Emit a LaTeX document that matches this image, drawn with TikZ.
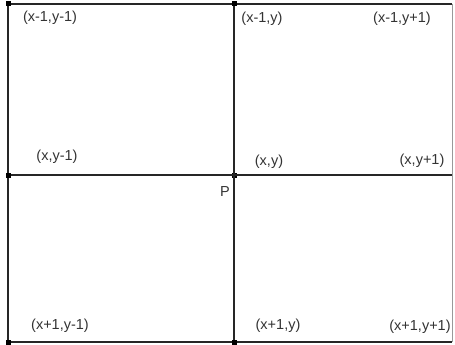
\documentclass[tikz,border=0pt]{standalone}
\usepackage{fontspec}
\setmainfont{Liberation Sans}
\begin{document}
\begin{tikzpicture}[x=1pt,y=-1pt,
  lbl/.style={font=\fontsize{14.5}{16}\selectfont, text=black!80, inner sep=0pt},
  dot/.style={fill=black, minimum size=5pt, inner sep=0pt, draw=none, rectangle},
  gridline/.style={line width=1.3pt, black!85}]
\useasboundingbox (0,0) rectangle (455,345);
\coordinate (tl) at (8,4);
\coordinate (tm) at (234,4);
\coordinate (tr) at (452,4);
\coordinate (ml) at (8,175);
\coordinate (mr) at (452,175);
\coordinate (bl) at (8,342);
\coordinate (bm) at (234,342);
\coordinate (br) at (452,342);
\node[dot] (c) at (234,175) {};
% lines
\draw[gridline] (tl) -- (tr);
\draw[gridline] (bl) -- (br);
\draw[gridline] (tl) -- (bl);
\draw[gridline] (tm) -- (bm);
\draw[gridline] (ml) -- (mr);
\draw[line width=0.6pt, black!40] (tr) -- (br);
% dots
\node[dot] at (tl) {};
\node[dot] at (tm) {};
\node[dot] at (ml) {};
\node[dot] at (bl) {};
\node[dot] at (bm) {};
% labels
\node[lbl] (l1) at (50,18) {(x-1,y-1)};
\node[lbl] (l2) at (262,19) {(x-1,y)};
\node[lbl] (l3) at (402,19) {(x-1,y+1)};
\node[lbl] (l4) at (57,157) {(x,y-1)};
\node[lbl] (l5) at (269,162) {(x,y)};
\node[lbl] (l6) at (422,161) {(x,y+1)};
\node[lbl] (p) at (225,192) {P};
\node[lbl] (l7) at (60,326) {(x+1,y-1)};
\node[lbl] (l8) at (278,326) {(x+1,y)};
\node[lbl] (l9) at (420,327) {(x+1,y+1)};
\end{tikzpicture}
\end{document}
